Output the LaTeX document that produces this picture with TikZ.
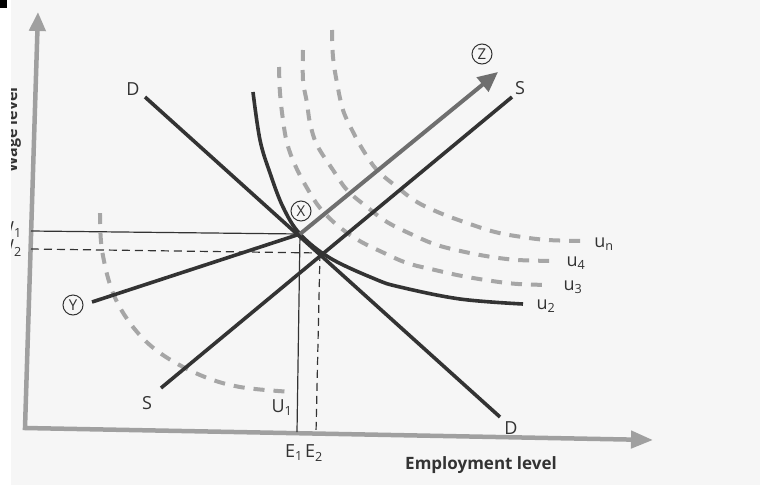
\documentclass[tikz,border=0pt]{standalone}
\usepackage{fontspec}
\setmainfont{Open Sans}
\usetikzlibrary{arrows.meta}
\definecolor{ink}{HTML}{333333}
\definecolor{axisgray}{HTML}{A0A0A0}
\definecolor{zgray}{HTML}{6E6E6E}
\definecolor{dashgray}{HTML}{A6A6A6}
\definecolor{paper}{HTML}{F6F6F6}
\begin{document}
\begin{tikzpicture}[x=1pt,y=-1pt,
  lbl/.style={font=\fontsize{18}{21}\selectfont, text=ink, inner sep=0pt},
  circ/.style={draw=ink, line width=1pt, circle, minimum size=20pt, inner sep=0pt, font=\fontsize{15}{17}\selectfont, text=ink},
  darkline/.style={draw=ink, line width=3.6pt},
  dashcurve/.style={draw=dashgray, line width=4pt, dash pattern=on 11pt off 9pt},
  thinline/.style={draw=ink, line width=1.2pt},
  thindash/.style={draw=ink, line width=1.2pt, dash pattern=on 8pt off 5pt},
]
\useasboundingbox (0,0) rectangle (760,485);
\fill[paper] (11,0) rectangle (760,485);
\fill[black] (0,0) rectangle (7,8);

% left-edge labels, clipped by the page edge
\begin{scope}
\clip (11,0) rectangle (760,485);
\node[rotate=90, anchor=base, font=\bfseries\fontsize{16}{19}\selectfont, text=ink] (wl) at (17,130) {Wage level};
\node[lbl, anchor=east] (W1) at (22,230) {W\textsubscript{1}};
\node[lbl, anchor=east] (W2) at (22,248) {W\textsubscript{2}};
\end{scope}

% key points
\coordinate (X) at (300,234);
\coordinate (P) at (320,253);

% dashed indifference curves
\draw[dashcurve] plot[smooth, tension=0.6] coordinates {(100,213) (102,250) (113,293) (133,327) (160,353) (200,375) (240,387) (293,392)};
\draw[dashcurve] plot[smooth, tension=0.6] coordinates {(279,67) (280,93) (283,120) (287,143) (295,165) (307,188) (320,208) (337,225) (358,240) (382,252) (407,263) (435,270) (462,276) (492,281) (518,284) (550,285)};
\draw[dashcurve] plot[smooth, tension=0.6] coordinates {(303,50) (303,80) (307,103) (310,123) (317,145) (333,170) (347,190) (367,207) (387,222) (413,235) (437,245) (465,252) (492,257) (518,260) (553,261)};
\draw[dashcurve] plot[smooth, tension=0.6] coordinates {(332,30) (333,57) (337,83) (343,110) (352,130) (363,150) (377,170) (397,187) (417,202) (440,213) (467,223) (495,232) (522,237) (548,240) (582,241)};

% axes
\coordinate (ytip) at (38,12);
\coordinate (O) at (25,428);
\coordinate (xtip) at (653,440);
\draw[axisgray, line width=4.5pt, line join=miter, {Triangle[length=19pt,width=16pt]}-{Triangle[length=22pt,width=17pt]}] (ytip) -- (O) -- (xtip);

% guide lines
\coordinate (w1l) at (31,231);
\coordinate (w2l) at (31,249);
\coordinate (e1b) at (297,432);
\coordinate (e2b) at (316,433);
\draw[thinline] (w1l) -- (X);
\draw[thindash] (w2l) -- (P);
\draw[thinline] (X) -- (e1b);
\draw[thindash] (P) -- (e2b);

% solid curve u2
\draw[darkline] plot[smooth, tension=0.6] coordinates {(253,92) (260,140) (270,173) (283,207) (300,234) (330,258) (375,279) (400,287) (460,299) (523,304)};

% D and S lines
\coordinate (Dt) at (145,97);
\coordinate (Db) at (500,417);
\coordinate (Sb) at (161,388);
\coordinate (St) at (512,97);
\coordinate (Yr) at (92,302);
\draw[darkline] (Dt) -- (Db);
\draw[darkline] (Sb) -- (St);
\draw[darkline] (Yr) -- (X);

% Z arrow
\coordinate (Ztip) at (498,72);
\draw[zgray, line width=4pt, -{Triangle[length=20pt,width=18pt]}] (X) -- (Ztip);

% labels
\node[lbl] (Dtl) at (133,89) {D};
\node[lbl] (Dbl) at (511,428) {D};
\node[lbl] (Sbl) at (147,403) {S};
\node[lbl] (Stl) at (520,88) {S};
\node[lbl] (un) at (604,244) {u\textsubscript{n}};
\node[lbl] (u4) at (576,263) {u\textsubscript{4}};
\node[lbl] (u3) at (573,287) {u\textsubscript{3}};
\node[lbl] (u2) at (546,306) {u\textsubscript{2}};
\node[lbl] (U1) at (282,408) {U\textsubscript{1}};
\node[lbl] (E1) at (294,453) {E\textsubscript{1}};
\node[lbl] (E2) at (314,453) {E\textsubscript{2}};
\node[font=\bfseries\fontsize{17}{20}\selectfont, text=ink, inner sep=0pt] (el) at (481,465) {Employment level};
\node[circ] (cX) at (301,211) {X};
\node[circ] (cY) at (73,305) {Y};
\node[circ] (cZ) at (482,54) {Z};
\end{tikzpicture}
\end{document}
